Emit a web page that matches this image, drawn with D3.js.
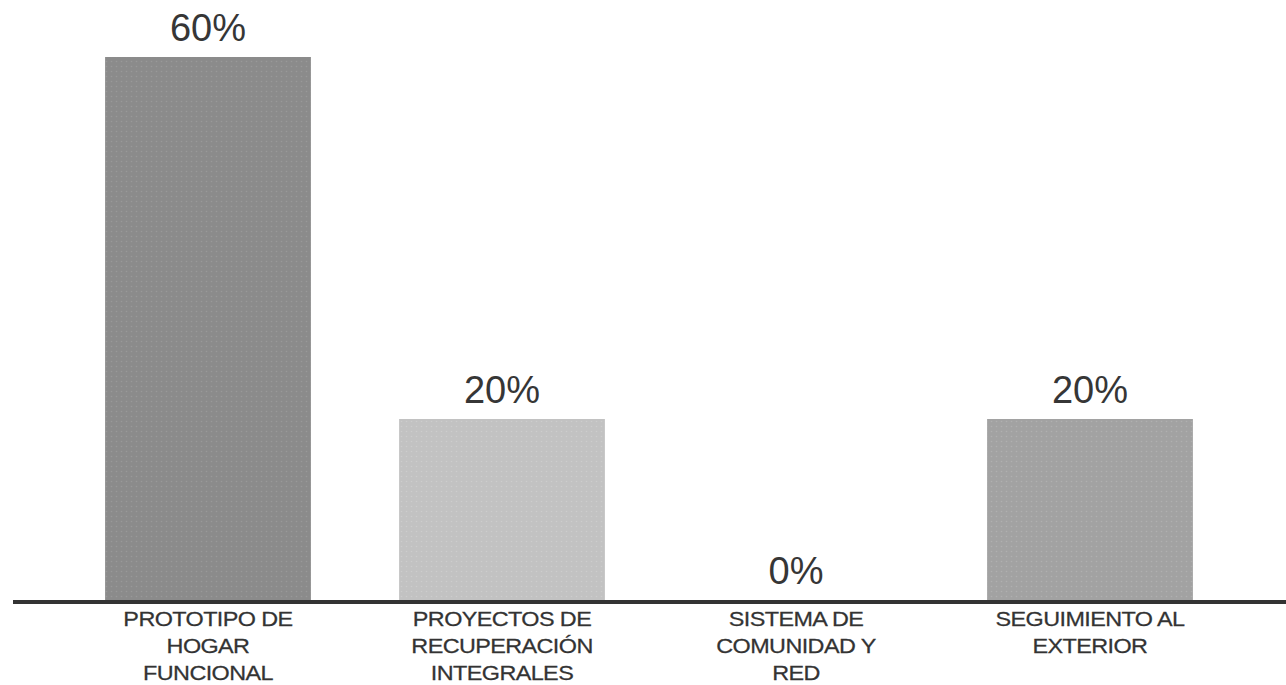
<!DOCTYPE html>
<html>
<head>
<meta charset="utf-8">
<script src="https://cdn.jsdelivr.net/npm/d3@7"></script>
<style>
  html, body { margin: 0; padding: 0; background: #ffffff; }
  svg { display: block; }
</style>
</head>
<body>
<svg id="chart" width="1286" height="685"></svg>
<script>
const categories = ["PROTOTIPO DE HOGAR FUNCIONAL", "PROYECTOS DE RECUPERACIÓN INTEGRALES", "SISTEMA DE COMUNIDAD Y RED", "SEGUIMIENTO AL EXTERIOR"];
const categoryLines = [
  ["PROTOTIPO DE", "HOGAR", "FUNCIONAL"],
  ["PROYECTOS DE", "RECUPERACIÓN", "INTEGRALES"],
  ["SISTEMA DE", "COMUNIDAD Y", "RED"],
  ["SEGUIMIENTO AL", "EXTERIOR"]
];
const values = [60, 20, 0, 20];
const valueLabels = ["60%", "20%", "0%", "20%"];
const barColors = ["#8b8b8b", "#c2c2c2", "#858585", "#a2a2a2"];
const dotColors = ["#999999", "#cdcdcd", "#939393", "#b0b0b0"];

const svg = d3.select("#chart");

const x = d3.scaleBand()
  .domain(categories)
  .range([61, 1237])
  .paddingInner(0.3)
  .paddingOuter(0.15);

const y = d3.scaleLinear()
  .domain([0, 60])
  .range([600, 57]);

const defs = svg.append("defs");
categories.forEach((c, i) => {
  const p = defs.append("pattern")
    .attr("id", "pat" + i)
    .attr("width", 5).attr("height", 5)
    .attr("patternUnits", "userSpaceOnUse");
  p.append("rect").attr("width", 5).attr("height", 5).attr("fill", barColors[i]);
  p.append("circle").attr("cx", 1.5).attr("cy", 1.5).attr("r", 0.8).attr("fill", dotColors[i]);
});

svg.append("g").selectAll("rect")
  .data(categories)
  .join("rect")
  .attr("x", d => x(d))
  .attr("width", x.bandwidth())
  .attr("y", (d, i) => y(values[i]))
  .attr("height", (d, i) => y(0) - y(values[i]))
  .attr("fill", (d, i) => `url(#pat${i})`);

svg.append("g").selectAll("text")
  .data(categories)
  .join("text")
  .attr("x", d => x(d) + x.bandwidth() / 2)
  .attr("y", (d, i) => y(values[i]) - 16)
  .attr("text-anchor", "middle")
  .attr("font-family", "'Liberation Sans', Arial, sans-serif")
  .attr("font-size", 38)
  .attr("fill", "#363636")
  .text((d, i) => valueLabels[i]);

const axis = d3.axisBottom(x).tickSize(0).tickFormat("");
const gAxis = svg.append("g").attr("transform", `translate(0,${y(0) + 2})`).call(axis);
gAxis.select(".domain").remove();
gAxis.append("line")
  .attr("x1", 13).attr("x2", 1286)
  .attr("y1", 0).attr("y2", 0)
  .attr("stroke", "#333333")
  .attr("stroke-width", 4);

const catG = svg.append("g");
categories.forEach((c, i) => {
  const t = catG.append("text")
    .attr("text-anchor", "middle")
    .attr("font-family", "'Liberation Sans', Arial, sans-serif")
    .attr("font-size", 20)
    .attr("letter-spacing", "-0.5")
    .attr("fill", "#333333")
    .attr("stroke", "#333333")
    .attr("stroke-width", 0.25)
    .attr("transform", `translate(${x(c) + x.bandwidth() / 2},0) scale(1.17,1)`);
  categoryLines[i].forEach((line, j) => {
    t.append("tspan")
      .attr("x", 0)
      .attr("y", 626 + j * 27)
      .text(line);
  });
});
</script>
</body>
</html>
